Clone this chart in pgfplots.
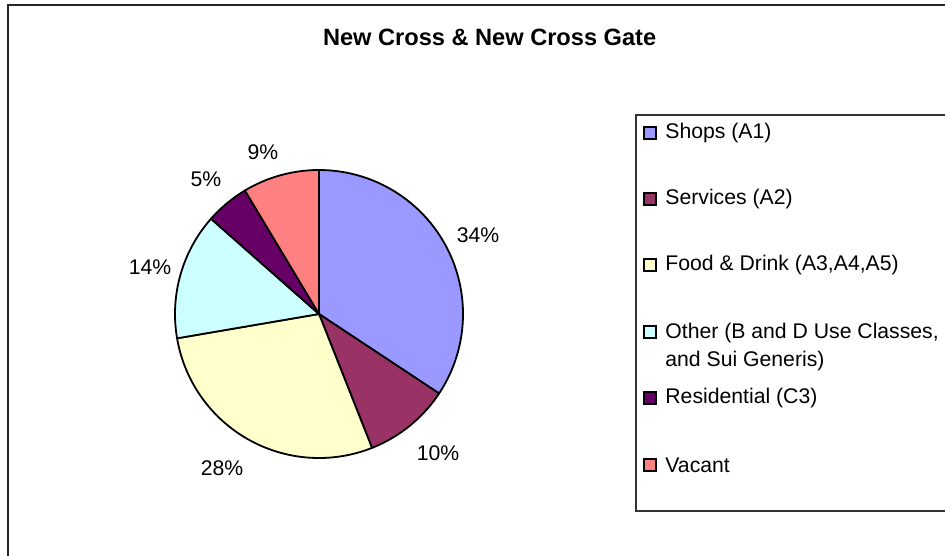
\documentclass[border=0pt]{standalone}
\usepackage{pgfplots}
\pgfplotsset{compat=1.18}
\usepackage{pgfplotstable}
\usepackage{fontspec}
\setmainfont{Liberation Sans}
\definecolor{cShops}{HTML}{9999FF}
\definecolor{cServices}{HTML}{993366}
\definecolor{cFood}{HTML}{FFFFCC}
\definecolor{cOther}{HTML}{CCFFFF}
\definecolor{cResidential}{HTML}{660066}
\definecolor{cVacant}{HTML}{FF8080}

% share of each use class (percent), clockwise from 12 o'clock
\pgfplotstableread{
label value
Shops 34.3
Services 9.7
Food 28.3
Other 14.2
Residential 4.9
Vacant 8.6
}\piedata

\def\curang{90}
\newcommand\slice[2]{%
  \pgfplotstablegetelem{#1}{value}\of\piedata
  \pgfmathsetmacro{\endang}{\curang-3.6*\pgfplotsretval}%
  \edef\temp{\noexpand\addplot[fill=#2,draw=black,line width=0.9pt,line join=round,domain=\endang:\curang,samples=90,variable=\noexpand\t] ({319+144*cos(\noexpand\t)},{241+144*sin(\noexpand\t)}) -- (axis cs:319,241) -- cycle;}%
  \temp
  \global\let\curang\endang
}

\newcommand\lfont{\fontsize{10.6}{14}\selectfont}
\newcommand\lentry[3]{%
  \draw[fill=#2, draw=black, line width=0.6pt] (axis cs:644,#1-6) rectangle (axis cs:656,#1+6);
  \node[font=\lfont, anchor=west, inner sep=0pt] at (axis cs:665,#1) {#3};
}

\begin{document}
\begin{tikzpicture}
\begin{axis}[
  width=472.5pt, height=277.5pt, scale only axis,
  xmin=0, xmax=945, ymin=0, ymax=555,
  hide axis, clip=true,
]
\slice{0}{cShops}
\slice{1}{cServices}
\slice{2}{cFood}
\slice{3}{cOther}
\slice{4}{cResidential}
\slice{5}{cVacant}

% percentage labels
\node[font=\lfont] at (axis cs:478,320) {34\%};
\node[font=\lfont] at (axis cs:438,102) {10\%};
\node[font=\lfont] at (axis cs:222,87) {28\%};
\node[font=\lfont] at (axis cs:150,288) {14\%};
\node[font=\lfont] at (axis cs:206,376) {5\%};
\node[font=\lfont] at (axis cs:263,403) {9\%};

% title
\node[font=\fontsize{11.8}{14}\selectfont\bfseries, anchor=base west] at (axis cs:316,509) {New Cross \& New Cross Gate};

% chart frame
\draw[line width=1pt, black!85] (axis cs:8,-20) -- (axis cs:8,550) -- (axis cs:990,550);

% legend box
\draw[line width=0.6pt, black!80] (axis cs:990,440) -- (axis cs:636,440) -- (axis cs:636,44) -- (axis cs:990,44);

% legend entries
\lentry{422}{cShops}{Shops (A1)}
\lentry{356}{cServices}{Services (A2)}
\lentry{290}{cFood}{Food \& Drink (A3,A4,A5)}
\lentry{157}{cResidential}{Residential (C3)}
\lentry{90}{cVacant}{Vacant}
\draw[fill=cOther, draw=black, line width=0.6pt] (axis cs:644,217) rectangle (axis cs:656,229);
\node[font=\lfont, anchor=north west, inner sep=0pt, align=left] at (axis cs:665,232) {Other (B and D Use Classes,\\and Sui Generis)};
\end{axis}
\pgfresetboundingbox
\useasboundingbox (current axis.south west) rectangle (current axis.north east);
\end{tikzpicture}
\end{document}
